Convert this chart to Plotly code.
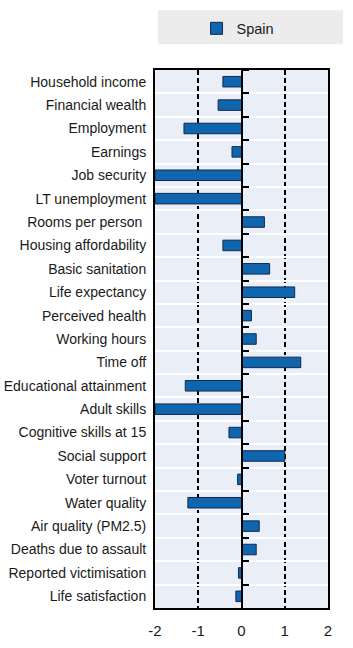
import plotly.graph_objects as go

categories = [
    "Household income", "Financial wealth", "Employment", "Earnings",
    "Job security", "LT unemployment", "Rooms per person ", "Housing affordability",
    "Basic sanitation", "Life expectancy", "Perceived health", "Working hours",
    "Time off", "Educational attainment", "Adult skills", "Cognitive skills at 15",
    "Social support", "Voter turnout", "Water quality", "Air quality (PM2.5)",
    "Deaths due to assault", "Reported victimisation", "Life satisfaction",
]
spain = [
    -0.43, -0.54, -1.33, -0.22,
    -2.0, -2.0, 0.53, -0.43,
    0.65, 1.23, 0.23, 0.34,
    1.37, -1.30, -2.0, -0.29,
    1.0, -0.09, -1.24, 0.41,
    0.34, -0.07, -0.13,
]
x_ticks = [-2, -1, 0, 1, 2]
series_name = "Spain"

n = len(categories)
FONT = "Liberation Sans, Arial, sans-serif"

fig = go.Figure()
fig.add_trace(go.Bar(
    x=spain, y=categories, orientation="h", name=series_name,
    width=0.45,
    marker=dict(color="#0f65ae", line=dict(color="#13294b", width=1)),
    showlegend=True,
))
# helper trace for the zero-line axis with boundary ticks
fig.add_trace(go.Scatter(
    x=[0] * n, y=categories, yaxis="y2", mode="markers",
    marker=dict(opacity=0), showlegend=False, hoverinfo="skip",
))

fig.update_layout(
    width=353, height=648,
    margin=dict(l=155, r=25, t=67, b=40),
    paper_bgcolor="white",
    plot_bgcolor="#e9eef7",
    font=dict(family=FONT, size=14, color="#1a1a1a"),
    xaxis=dict(
        range=[-2, 2], tickvals=x_ticks, ticktext=[str(v) for v in x_ticks],
        showgrid=True, gridcolor="black", gridwidth=2, griddash="5px,3px",
        zeroline=False, showline=True, mirror=True, linecolor="black", linewidth=2,
        ticks="", ticklabelstandoff=8, fixedrange=True, automargin=False,
        tickfont=dict(size=15),
    ),
    yaxis=dict(
        type="category", categoryorder="array", categoryarray=categories,
        range=[n - 0.5, -0.5],
        showgrid=True, gridcolor="white", gridwidth=2, tickson="boundaries",
        showline=True, mirror=True, linecolor="black", linewidth=2,
        ticks="", ticklabelstandoff=4, automargin=False,
    ),
    yaxis2=dict(
        type="category", categoryorder="array", categoryarray=categories,
        range=[n - 0.5, -0.5],
        overlaying="y", anchor="free", position=0.5, side="right",
        showline=True, linecolor="black", linewidth=2,
        ticks="outside", ticklen=6, tickwidth=1.5, tickcolor="black",
        tickson="boundaries", showticklabels=False, showgrid=False, zeroline=False,
        automargin=False,
    ),
    legend=dict(
        x=0.24, y=1.107, xanchor="left", yanchor="top",
        bgcolor="rgba(0,0,0,0)", font=dict(size=14.5),
        orientation="h",
    ),
    shapes=[dict(
        type="rect", xref="paper", yref="paper",
        x0=0.017, x1=1.087, y0=1.048, y1=1.111,
        fillcolor="#ececec", line=dict(width=0), layer="below",
    )],
    bargap=0.5,
)

fig.write_html("out.html")
